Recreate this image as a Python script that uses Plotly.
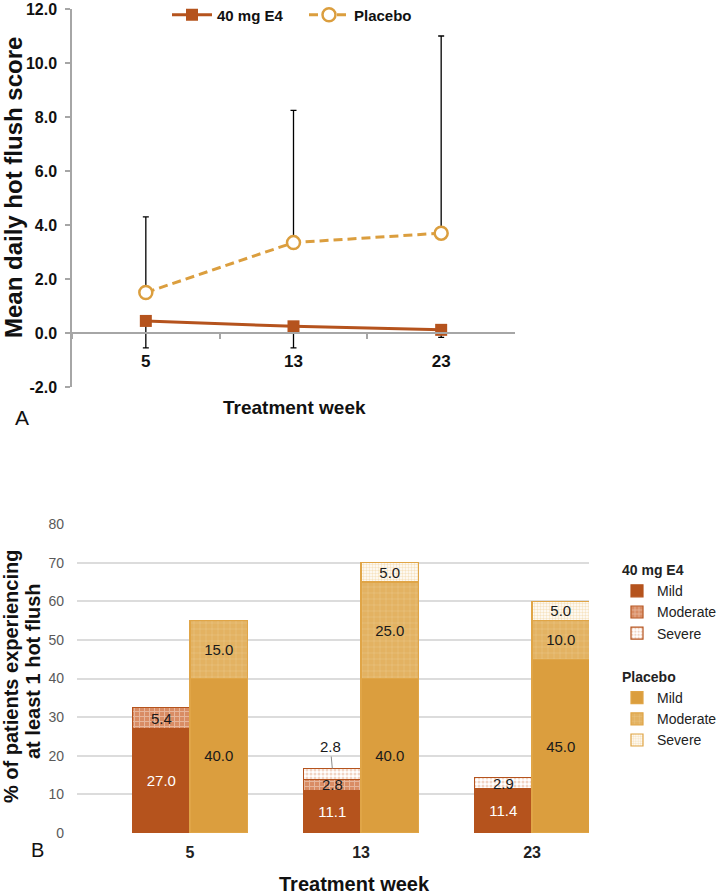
import plotly.graph_objects as go

# ---------------- data ----------------
weeks = ["5", "13", "23"]

# Panel A: mean daily hot flush score
e4_mean = [0.45, 0.25, 0.12]
e4_err_minus = [1.0, 0.8, 0.28]
placebo_mean = [1.5, 3.35, 3.7]
placebo_err_plus = [2.8, 4.9, 7.3]
top_yticks = [-2, 0, 2, 4, 6, 8, 10, 12]

# Panel B: % of patients experiencing at least 1 hot flush
severity = ["Mild", "Moderate", "Severe"]
e4_mild = [27.0, 11.1, 11.4]
e4_moderate = [5.4, 2.8, 0.0]
e4_severe = [0.0, 2.8, 2.9]
placebo_mild = [40.0, 40.0, 45.0]
placebo_moderate = [15.0, 25.0, 10.0]
placebo_severe = [0.0, 5.0, 5.0]
bottom_yticks = [0, 10, 20, 30, 40, 50, 60, 70, 80]
callout_index = 1  # E4 severe label drawn outside with a leader line

# ---------------- styles ----------------
W, H = 722, 894
def px(x): return x / W
def py(y): return 1 - y / H

SANS = "Liberation Sans, Arial, Helvetica, sans-serif"
E4_COL = "#B5531D"
PL_COL = "#DB9E3E"
AX_GREY = "#A6A6A6"

fig = go.Figure()

# ---------------- Panel A ----------------
fig.add_trace(go.Scatter(
    x=weeks, y=e4_mean, name="40 mg E4", mode="lines+markers",
    line=dict(color=E4_COL, width=3),
    marker=dict(symbol="square", size=12, color=E4_COL),
    error_y=dict(type="data", symmetric=False, array=[0] * len(weeks),
                 arrayminus=e4_err_minus, color="black", thickness=1.3, width=3),
    xaxis="x", yaxis="y", legend="legend", cliponaxis=False,
))
fig.add_trace(go.Scatter(
    x=weeks, y=placebo_mean, name="Placebo", mode="lines+markers",
    line=dict(color=PL_COL, width=3, dash="9px,5px"),
    marker=dict(symbol="circle", size=13, color="white",
                line=dict(color=PL_COL, width=2.5)),
    error_y=dict(type="data", symmetric=False, array=placebo_err_plus,
                 arrayminus=[0] * len(weeks), color="black", thickness=1.3, width=3),
    xaxis="x", yaxis="y", legend="legend", cliponaxis=False,
))

# ---------------- Panel B ----------------
bar_w = 0.336
e4_x = [i - bar_w / 2 for i in range(len(weeks))]
pl_x = [i + bar_w / 2 for i in range(len(weeks))]

def fmt(vals, skip=None):
    out = []
    for i, v in enumerate(vals):
        out.append("" if (v == 0 or i == skip) else f"{v:.1f}")
    return out

bar_specs = [
    ("e4", "Mild", e4_x, e4_mild, dict(color=E4_COL), "white", None),
    ("e4", "Moderate", e4_x,
     e4_moderate, dict(color="#D98C64", pattern=dict(shape="+", fillmode="overlay", bgcolor="#D98C64",
                                                      fgcolor="#F6E2D6", size=5, solidity=0.35)), "#1a1a1a", None),
    ("e4", "Severe", e4_x,
     e4_severe, dict(color="white", pattern=dict(shape=".", fillmode="overlay", bgcolor="white",
                                                 fgcolor="#E3A98A", size=4, solidity=0.45)), "#1a1a1a", callout_index),
    ("pl", "Mild", pl_x, placebo_mild, dict(color=PL_COL), "#1a1a1a", None),
    ("pl", "Moderate", pl_x,
     placebo_moderate, dict(color="#E3B262", pattern=dict(shape="+", fillmode="overlay", bgcolor="#E3B262",
                                                          fgcolor="#F3DDB2", size=6, solidity=0.15)), "#1a1a1a", None),
    ("pl", "Severe", pl_x,
     placebo_severe, dict(color="white", pattern=dict(shape=".", fillmode="overlay", bgcolor="white",
                                                      fgcolor="#EEC783", size=3, solidity=0.5)), "#1a1a1a", None),
]
group_titles = {"e4": "40 mg E4", "pl": "Placebo"}
group_line = {"e4": E4_COL, "pl": "#E0A547"}
shown_titles = set()
for grp, name, xs, vals, mk, tcol, skip in bar_specs:
    mk = dict(mk)
    mk["line"] = dict(color=group_line[grp], width=1.2)
    tr = dict(
        x=xs, y=vals, width=[bar_w] * len(xs), name=name, marker=mk,
        text=fmt(vals, skip), textposition="inside", insidetextanchor="middle",
        textangle=0, constraintext="none",
        textfont=dict(family=SANS, size=15, color=tcol),
        xaxis="x2", yaxis="y2", legend="legend2", legendgroup=grp,
        cliponaxis=False,
    )
    if grp not in shown_titles:
        tr["legendgrouptitle"] = dict(text=group_titles[grp],
                                      font=dict(family=SANS, size=14, color="#222", weight="bold"))
        shown_titles.add(grp)
    fig.add_trace(go.Bar(**tr))

callout_y = e4_mild[callout_index] + e4_moderate[callout_index] + e4_severe[callout_index]

def note(text, x, y, size, angle=0, bold=True, color="#111"):
    return dict(text=f"<b>{text}</b>" if bold else text, x=px(x), y=py(y),
                xref="paper", yref="paper", xanchor="center", yanchor="middle",
                showarrow=False, textangle=angle, borderpad=0,
                font=dict(family=SANS, size=size, color=color))

# ---------------- layout ----------------
fig.update_layout(
    width=W, height=H, autosize=False,
    margin=dict(l=0, r=0, t=0, b=0, autoexpand=False),
    paper_bgcolor="white", plot_bgcolor="white",
    barmode="stack",
    showlegend=True,
    xaxis=dict(
        type="category", domain=[px(72), px(515)], range=[-0.5, 2.5],
        anchor="free", position=py(332.7),
        showline=True, linecolor=AX_GREY, linewidth=1.5,
        ticks="outside", tickson="boundaries", ticklen=6, tickcolor=AX_GREY, tickwidth=1.5,
        showgrid=False, zeroline=False, ticklabelstandoff=13,
        tickfont=dict(family=SANS, size=17, color="#111", weight="bold"),
    ),
    yaxis=dict(
        domain=[py(387.1), py(9)], range=[-2, 12],
        tickvals=top_yticks, ticktext=[f"{v:.1f}" for v in top_yticks],
        anchor="x", showline=True, linecolor=AX_GREY, linewidth=1.5,
        ticks="outside", ticklen=5, tickcolor=AX_GREY, tickwidth=1.5,
        showgrid=False, zeroline=False, ticklabelstandoff=5, ticklabeloverflow="allow",
        tickfont=dict(family=SANS, size=16, color="#111", weight="bold"),
    ),
    xaxis2=dict(
        domain=[px(77), px(589)], range=[-0.661, 2.333], anchor="y2",
        tickvals=list(range(len(weeks))), ticktext=weeks,
        showgrid=False, zeroline=False, showline=False, ticks="",
        ticklabelstandoff=8, ticklabeloverflow="allow",
        tickfont=dict(family=SANS, size=16, color="#222", weight="bold"),
    ),
    yaxis2=dict(
        domain=[py(833), py(524)], range=[0, 80], tickvals=bottom_yticks, anchor="x2",
        showgrid=True, gridcolor="#DCDCDC", gridwidth=1.5,
        zeroline=False, showline=False, ticks="", ticklabelstandoff=12,
        tickfont=dict(family=SANS, size=14, color="#595959"),
    ),
    legend=dict(
        orientation="h", x=px(167), xanchor="left", y=py(15), yanchor="middle",
        font=dict(family=SANS, size=15, color="#111", weight="bold"),
        bgcolor="rgba(0,0,0,0)", itemwidth=40, entrywidth=82,
    ),
    legend2=dict(
        orientation="v", x=px(617), xanchor="left", y=py(554), yanchor="top",
        traceorder="grouped", tracegroupgap=22,
        font=dict(family=SANS, size=14, color="#222"),
        bgcolor="rgba(0,0,0,0)",
    ),
    annotations=[
        note("Mean daily hot flush score", 13, 188, 24, angle=-90),
        note("Treatment week", 294, 407, 19),
        note("A", 22, 418, 21, bold=False),
        note("% of patients experiencing", 11, 677, 20, angle=-90),
        note("at least 1 hot flush", 33, 671, 20, angle=-90),
        note("Treatment week", 354, 884, 20),
        note("B", 37, 850, 20, bold=False),
        dict(text=f"{e4_severe[callout_index]:.1f}", x=e4_x[callout_index], y=callout_y,
             xref="x2", yref="y2", showarrow=True, arrowhead=0, arrowwidth=1,
             arrowcolor="#8C8C8C", ax=-2, ay=-22, standoff=0,
             font=dict(family=SANS, size=15, color="#1a1a1a")),
    ],
)

fig.write_html("out.html", config={"displayModeBar": False},
               post_script="document.body.style.margin='0';document.body.style.overflow='hidden';")
